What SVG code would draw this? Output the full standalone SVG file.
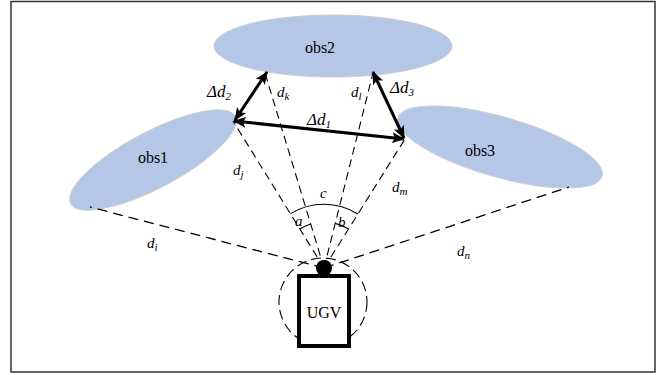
<svg xmlns="http://www.w3.org/2000/svg" width="666" height="375" viewBox="0 0 666 375">
<defs>
<marker id="ah" viewBox="0 0 13 11" refX="12" refY="5.5" markerWidth="13" markerHeight="11" markerUnits="userSpaceOnUse" orient="auto-start-reverse">
<path d="M0,0 L13,5.5 L0,11 L3,5.5 Z" fill="#000"/>
</marker>
</defs>
<style>
.obs{fill:#b4c7e7;stroke:#c9ccd3;stroke-width:1}
.t{font-family:"Liberation Serif","Times New Roman",serif;font-size:16px;fill:#000}
.lb{font-family:"Liberation Serif","Times New Roman",serif;font-style:italic;font-size:17px;fill:#000}
.ls{font-family:"Liberation Serif","Times New Roman",serif;font-style:italic;font-size:15px;fill:#000}
.sub{font-size:11px}
.dash{fill:none;stroke:#000;stroke-width:1.1;stroke-dasharray:8,5}
.dash2{fill:none;stroke:#000;stroke-width:1.3;stroke-dasharray:10,6}
.arr{fill:none;stroke:#000;stroke-width:3;marker-start:url(#ah);marker-end:url(#ah)}
.arc{fill:none;stroke:#000;stroke-width:1.1}
</style>
<rect x="11" y="1.5" width="644" height="370.5" fill="#fff" stroke="#333" stroke-width="1.5"/>
<g id="obs2"><ellipse class="obs" cx="333" cy="46" rx="119" ry="31"/><text class="t" x="320" y="53" text-anchor="middle">obs2</text></g>
<g id="obs1"><ellipse class="obs" cx="153" cy="160" rx="93" ry="28" transform="rotate(-28 153 160)"/><text class="t" x="153" y="163" text-anchor="middle">obs1</text></g>
<g id="obs3"><ellipse class="obs" cx="500" cy="147" rx="106" ry="30" transform="rotate(16 500 147)"/><text class="t" x="480" y="156" text-anchor="middle">obs3</text></g>
<g id="connectors">
<line class="dash2" x1="324" y1="268" x2="90" y2="207"/>
<line class="dash" x1="324" y1="268" x2="233" y2="121"/>
<line class="dash" x1="324" y1="268" x2="265" y2="73"/>
<line class="dash" x1="324" y1="268" x2="373" y2="73"/>
<line class="dash" x1="324" y1="268" x2="405" y2="139"/>
<line class="dash2" x1="324" y1="268" x2="569" y2="187"/>
<line class="arr" x1="234" y1="121" x2="404" y2="139"/>
<line class="arr" x1="235" y1="120" x2="267" y2="72"/>
<line class="arr" x1="373" y1="72" x2="404" y2="138"/>
<path class="arc" d="M290.5,213.6 A64,64 0 0 1 358,214"/>
<path class="arc" d="M300,229 A46,46 0 0 1 310.7,224"/>
<path class="arc" d="M335.2,223.4 A46,46 0 0 1 348.5,229"/>
</g>
<g id="labels">
<text class="lb" x="207" y="97">Δd<tspan class="sub" dy="3">2</tspan></text>
<text class="lb" x="390" y="93">Δd<tspan class="sub" dy="3">3</tspan></text>
<text class="lb" x="307" y="125">Δd<tspan class="sub" dy="3">1</tspan></text>
<text class="ls" x="277" y="97">d<tspan class="sub" dy="3">k</tspan></text>
<text class="ls" x="351" y="97">d<tspan class="sub" dy="3">l</tspan></text>
<text class="ls" x="233" y="175">d<tspan class="sub" dy="3">j</tspan></text>
<text class="ls" x="147" y="248">d<tspan class="sub" dy="3">i</tspan></text>
<text class="ls" x="392" y="192">d<tspan class="sub" dy="3">m</tspan></text>
<text class="ls" x="457" y="256">d<tspan class="sub" dy="3">n</tspan></text>
<text class="ls" x="320" y="198">c</text>
<text class="ls" x="295" y="226">a</text>
<text class="ls" x="338" y="227">b</text>
</g>
<g id="ugv">
<circle cx="323" cy="302" r="44" fill="none" stroke="#000" stroke-width="1.1" stroke-dasharray="10,5"/>
<rect x="299" y="276" width="50" height="70" fill="#fff" stroke="#000" stroke-width="4"/>
<circle cx="324" cy="268" r="8" fill="#000"/>
<text class="t" x="324" y="318" text-anchor="middle" font-size="17">UGV</text>
</g>
</svg>
